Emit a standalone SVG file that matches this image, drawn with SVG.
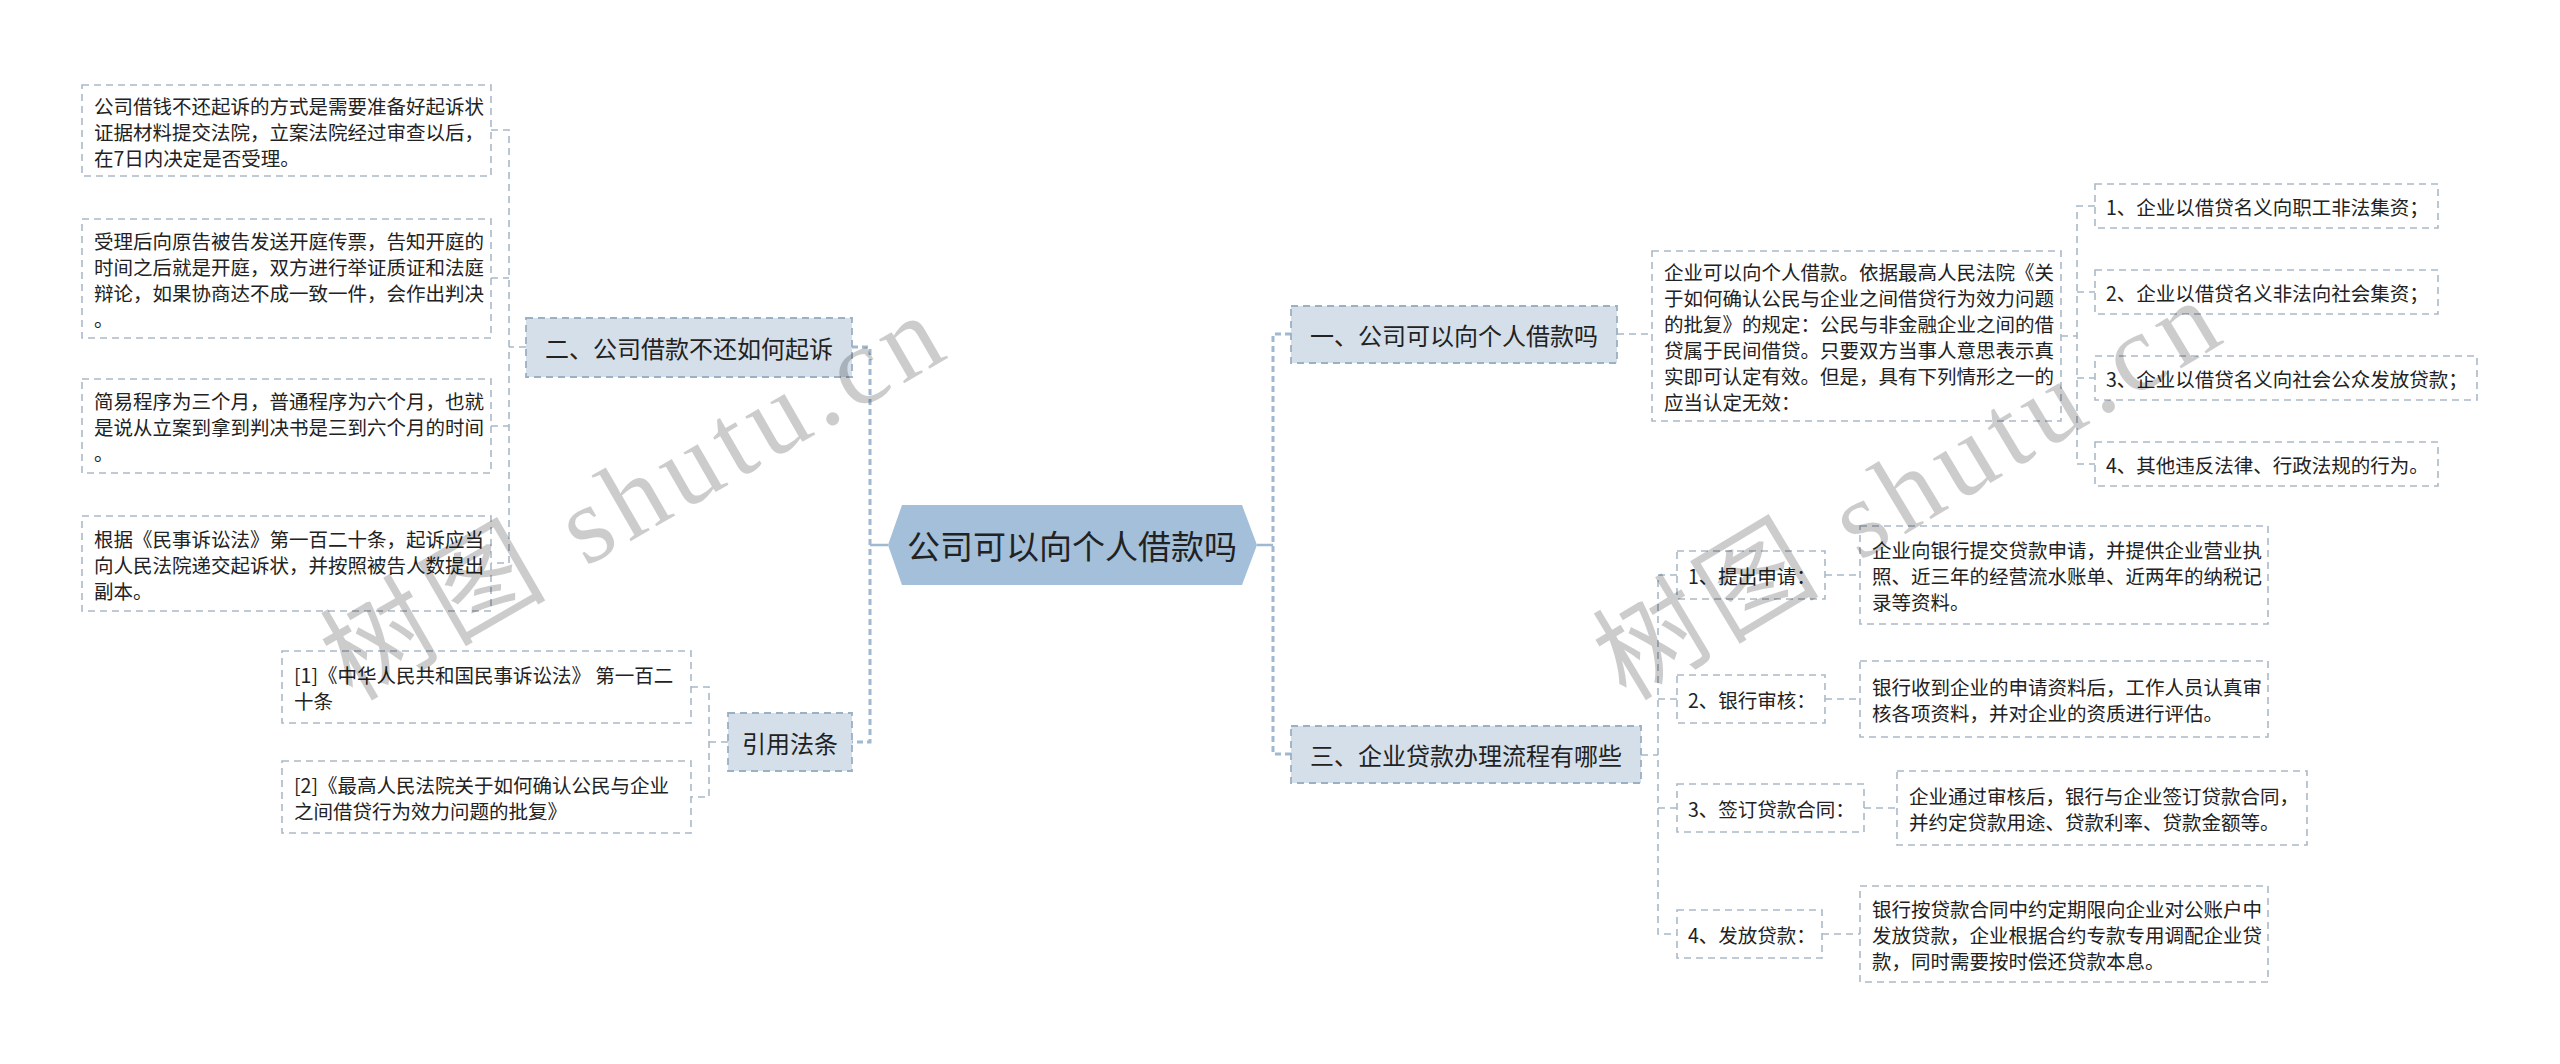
<svg xmlns="http://www.w3.org/2000/svg" width="2560" height="1064" viewBox="0 0 2560 1064">
<style>
text{font-family:"Noto Sans CJK SC","Liberation Sans",sans-serif;fill:#222;}
.t{font-size:19.5px;dominant-baseline:central;}
.l1 rect{fill:#d4dfe9;stroke:#9cb0c3;stroke-width:1.8;stroke-dasharray:7 5;}
.l1 text{font-size:24px;dominant-baseline:central;text-anchor:middle;}
.leaf rect{fill:#fff;stroke:#aab9c7;stroke-width:1.6;stroke-dasharray:7 5;}
.main{fill:none;stroke:#9fb9d2;stroke-width:3;stroke-dasharray:6 4;}
.solid{fill:none;stroke:#9fb9d2;stroke-width:2.5;}
.sub{fill:none;stroke:#a8b9c9;stroke-width:1.6;stroke-dasharray:7 5;}
.wm{font-family:"Liberation Serif","Noto Sans CJK SC",serif;font-size:110px;fill:#000;fill-opacity:0.2;}
</style>
<rect width="2560" height="1064" fill="#fff"/>
<g id="connectors">
<path class="solid" d="M888,545H870M1257,545H1273"/>
<path class="main" d="M852,347H870V742H852M1291,334H1273V754H1291"/>
<path class="sub" d="M526,347H509M491,130H509V563H491M491,278H509M491,426H509"/>
<path class="sub" d="M728,742H709M691,687H709V797H691"/>
<path class="sub" d="M1617,334H1652M2061,336H2077M2095,206H2077V464H2095M2077,292H2095M2077,378H2095"/>
<path class="sub" d="M1641,755H1658M1677,575H1658V934H1677M1658,699H1677M1658,808H1677M1825,575H1860M1825,699H1860M1864,808H1897M1822,934H1860"/>
</g>
<g id="root">
<polygon points="888,545 902,505 1242,505 1257,545 1242,585 902,585" fill="#a3bfd9"/>
<text x="1072" y="545" font-size="33" dominant-baseline="central" text-anchor="middle">公司可以向个人借款吗</text>
</g>
<g id="n2" class="l1"><rect x="526" y="318" width="326" height="59"/><text x="689" y="347.5">二、公司借款不还如何起诉</text></g>
<g id="nref" class="l1"><rect x="728" y="713" width="124" height="58"/><text x="790" y="742">引用法条</text></g>
<g id="n1" class="l1"><rect x="1291" y="306" width="326" height="57"/><text x="1454" y="334.5">一、公司可以向个人借款吗</text></g>
<g id="n3" class="l1"><rect x="1291" y="726" width="350" height="57"/><text x="1466" y="754.5">三、企业贷款办理流程有哪些</text></g>
<g id="lb1" class="leaf"><rect x="82" y="85" width="409" height="91"/><text class="t"><tspan x="94" y="104.5">公司借钱不还起诉的方式是需要准备好起诉状</tspan><tspan x="94" y="130.5">证据材料提交法院，立案法院经过审查以后，</tspan><tspan x="94" y="156.5">在7日内决定是否受理。</tspan></text></g>
<g id="lb2" class="leaf"><rect x="82" y="219" width="409" height="119"/><text class="t"><tspan x="94" y="239.5">受理后向原告被告发送开庭传票，告知开庭的</tspan><tspan x="94" y="265.5">时间之后就是开庭，双方进行举证质证和法庭</tspan><tspan x="94" y="291.5">辩论，如果协商达不成一致一件，会作出判决</tspan><tspan x="94" y="317.5">。</tspan></text></g>
<g id="lb3" class="leaf"><rect x="82" y="379" width="409" height="94"/><text class="t"><tspan x="94" y="400">简易程序为三个月，普通程序为六个月，也就</tspan><tspan x="94" y="426">是说从立案到拿到判决书是三到六个月的时间</tspan><tspan x="94" y="452">。</tspan></text></g>
<g id="lb4" class="leaf"><rect x="82" y="516" width="409" height="95"/><text class="t"><tspan x="94" y="537.5">根据《民事诉讼法》第一百二十条，起诉应当</tspan><tspan x="94" y="563.5">向人民法院递交起诉状，并按照被告人数提出</tspan><tspan x="94" y="589.5">副本。</tspan></text></g>
<g id="ref1" class="leaf"><rect x="282" y="651" width="409" height="72"/><text class="t"><tspan x="294" y="674">[1]《中华人民共和国民事诉讼法》 第一百二</tspan><tspan x="294" y="700">十条</tspan></text></g>
<g id="ref2" class="leaf"><rect x="282" y="761" width="409" height="72"/><text class="t"><tspan x="294" y="784">[2]《最高人民法院关于如何确认公民与企业</tspan><tspan x="294" y="810">之间借贷行为效力问题的批复》</tspan></text></g>
<g id="desc1" class="leaf"><rect x="1652" y="251" width="409" height="170"/><text class="t"><tspan x="1664" y="271">企业可以向个人借款。依据最高人民法院《关</tspan><tspan x="1664" y="297">于如何确认公民与企业之间借贷行为效力问题</tspan><tspan x="1664" y="323">的批复》的规定：公民与非金融企业之间的借</tspan><tspan x="1664" y="349">贷属于民间借贷。只要双方当事人意思表示真</tspan><tspan x="1664" y="375">实即可认定有效。但是，具有下列情形之一的</tspan><tspan x="1664" y="401">应当认定无效：</tspan></text></g>
<g id="i1" class="leaf"><rect x="2095" y="184" width="343" height="44"/><text class="t" x="2106" y="206">1、企业以借贷名义向职工非法集资；</text></g>
<g id="i2" class="leaf"><rect x="2095" y="270" width="343" height="44"/><text class="t" x="2106" y="292">2、企业以借贷名义非法向社会集资；</text></g>
<g id="i3" class="leaf"><rect x="2095" y="356" width="382" height="44"/><text class="t" x="2106" y="378">3、企业以借贷名义向社会公众发放贷款；</text></g>
<g id="i4" class="leaf"><rect x="2095" y="442" width="343" height="44"/><text class="t" x="2106" y="464">4、其他违反法律、行政法规的行为。</text></g>
<g id="s1" class="leaf"><rect x="1677" y="551" width="148" height="48"/><text class="t" x="1688" y="575">1、提出申请：</text></g>
<g id="s2" class="leaf"><rect x="1677" y="675" width="148" height="48"/><text class="t" x="1688" y="699">2、银行审核：</text></g>
<g id="s3" class="leaf"><rect x="1677" y="784" width="187" height="48"/><text class="t" x="1688" y="808">3、签订贷款合同：</text></g>
<g id="s4" class="leaf"><rect x="1677" y="910" width="145" height="48"/><text class="t" x="1688" y="934">4、发放贷款：</text></g>
<g id="d1" class="leaf"><rect x="1860" y="526" width="408" height="98"/><text class="t"><tspan x="1872" y="549">企业向银行提交贷款申请，并提供企业营业执</tspan><tspan x="1872" y="575">照、近三年的经营流水账单、近两年的纳税记</tspan><tspan x="1872" y="601">录等资料。</tspan></text></g>
<g id="d2" class="leaf"><rect x="1860" y="661" width="408" height="76"/><text class="t"><tspan x="1872" y="686">银行收到企业的申请资料后，工作人员认真审</tspan><tspan x="1872" y="712">核各项资料，并对企业的资质进行评估。</tspan></text></g>
<g id="d3" class="leaf"><rect x="1897" y="771" width="410" height="74"/><text class="t"><tspan x="1909" y="795">企业通过审核后，银行与企业签订贷款合同，</tspan><tspan x="1909" y="821">并约定贷款用途、贷款利率、贷款金额等。</tspan></text></g>
<g id="d4" class="leaf"><rect x="1860" y="886" width="408" height="96"/><text class="t"><tspan x="1872" y="908">银行按贷款合同中约定期限向企业对公账户中</tspan><tspan x="1872" y="934">发放贷款，企业根据合约专款专用调配企业贷</tspan><tspan x="1872" y="960">款，同时需要按时偿还贷款本息。</tspan></text></g>
<g id="watermark">
<text class="wm" transform="translate(352,702) rotate(-30)" textLength="690" lengthAdjust="spacing">树图 shutu.cn</text>
<text class="wm" transform="translate(1626,702) rotate(-31)" textLength="700" lengthAdjust="spacing">树图 shutu.cn</text>
</g>
</svg>
